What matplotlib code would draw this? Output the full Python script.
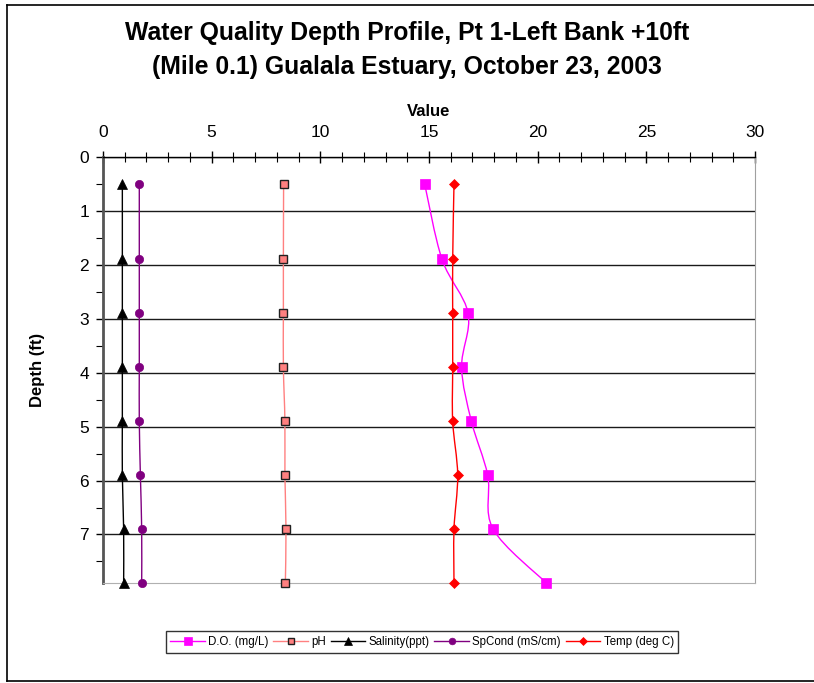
import numpy as np
import matplotlib
matplotlib.use("Agg")
import matplotlib.pyplot as plt
from matplotlib.path import Path
from matplotlib.patches import PathPatch
from matplotlib.lines import Line2D

plt.rcParams['font.family'] = ['Liberation Sans', 'DejaVu Sans']

# Depth profile data (ft)
depth = [0.5, 1.9, 2.9, 3.9, 4.9, 5.9, 6.9, 7.9]
do_mgl = [14.8, 15.6, 16.8, 16.5, 16.95, 17.7, 17.95, 20.4]
ph = [8.31, 8.30, 8.30, 8.30, 8.37, 8.37, 8.42, 8.39]
salinity = [0.89, 0.89, 0.89, 0.89, 0.89, 0.89, 0.95, 0.95]
spcond = [1.67, 1.67, 1.67, 1.67, 1.67, 1.72, 1.78, 1.78]
temp = [16.15, 16.09, 16.09, 16.09, 16.09, 16.32, 16.15, 16.15]

series_labels = ["D.O. (mg/L)", "pH", "Salinity(ppt)", "SpCond (mS/cm)", "Temp (deg C)"]
x_ticks = [0, 5, 10, 15, 20, 25, 30]
y_ticks = [0, 1, 2, 3, 4, 5, 6, 7]

title = "Water Quality Depth Profile, Pt 1-Left Bank +10ft\n(Mile 0.1) Gualala Estuary, October 23, 2003"

styles = [
    dict(color="#ff00ff", marker="s", ms=6.5, mfc="#ff00ff", mec="#ff00ff", mew=0.5),
    dict(color="#ff8080", marker="s", ms=5.5, mfc="#ff8080", mec="#202020", mew=1.0),
    dict(color="#000000", marker="^", ms=7, mfc="#000000", mec="#000000", mew=0.5),
    dict(color="#800080", marker="o", ms=6, mfc="#800080", mec="#800080", mew=0.5),
    dict(color="#ff0000", marker="D", ms=5, mfc="#ff0000", mec="#ff0000", mew=0.5),
]


def smooth_path(xs, ys, tension=1.0 / 6.0):
    """Cubic Bezier path through the points (Catmull-Rom style smoothing)."""
    pts = np.column_stack([xs, ys]).astype(float)
    n = len(pts)
    verts = [pts[0]]
    codes = [Path.MOVETO]
    for i in range(n - 1):
        p0 = pts[i - 1] if i > 0 else pts[i]
        p1 = pts[i]
        p2 = pts[i + 1]
        p3 = pts[i + 2] if i + 2 < n else pts[i + 1]
        c1 = p1 + (p2 - p0) * tension
        c2 = p2 - (p3 - p1) * tension
        verts += [c1, c2, p2]
        codes += [Path.CURVE4] * 3
    return Path(verts, codes)


fig = plt.figure(figsize=(8.14, 6.83), dpi=100)
ax = fig.add_axes([103 / 814, 1 - 583 / 683, (755 - 103) / 814, (583 - 157) / 683])

all_series = [do_mgl, ph, salinity, spcond, temp]
for vals, st in zip(all_series, styles):
    patch = PathPatch(smooth_path(vals, depth), facecolor="none",
                      edgecolor=st["color"], lw=1.0, zorder=3)
    ax.add_patch(patch)
    ax.plot(vals, depth, linestyle="none", marker=st["marker"], ms=st["ms"],
            mfc=st["mfc"], mec=st["mec"], mew=st["mew"], zorder=4, clip_on=False)

ax.set_xlim(0, 30)
ax.set_ylim(max(depth), 0)
ax.xaxis.tick_top()
ax.xaxis.set_label_position("top")
ax.set_xticks(x_ticks)
ax.set_xticks(np.arange(0, 31, 1), minor=True)
ax.set_yticks(y_ticks)
ax.set_yticks(np.arange(0.5, 8, 1.0), minor=True)
ax.tick_params(axis="x", which="major", direction="inout", length=8, width=1,
               labelsize=12.5, pad=8.5)
ax.tick_params(axis="x", which="minor", direction="inout", length=7, width=0.8)
ax.tick_params(axis="y", which="major", direction="out", length=5, width=1,
               labelsize=12.5, pad=5)
ax.tick_params(axis="y", which="minor", direction="out", length=5, width=0.8)

ax.grid(axis="y", which="major", color="#1a1a1a", lw=1.0)
ax.set_axisbelow(True)

ax.spines["top"].set_color("#000000")
ax.spines["top"].set_linewidth(1.0)
ax.spines["left"].set_color("#555555")
ax.spines["left"].set_linewidth(2.0)
ax.spines["right"].set_color("#a0a0a0")
ax.spines["bottom"].set_color("#b0b0b0")

ax.set_xlabel("Value", fontsize=12, fontweight="bold", labelpad=6)
ax.set_ylabel("Depth (ft)", fontsize=12, fontweight="bold", labelpad=25)

fig.text(407 / 814, 1 - 50 / 683, title, ha="center", va="center",
         fontsize=17.8, fontweight="bold", linespacing=1.5)

handles = [Line2D([], [], color=st["color"], lw=1.0, marker=st["marker"],
                  ms=st["ms"] * 0.8, mfc=st["mfc"], mec=st["mec"], mew=st["mew"])
           for st in styles]
leg = fig.legend(handles, series_labels, loc="center",
                 bbox_to_anchor=(422 / 814, 1 - 642 / 683), ncol=5, fontsize=8.3,
                 frameon=True, fancybox=False, edgecolor="#000000",
                 handlelength=3.0, handletextpad=0.3, columnspacing=0.4,
                 borderpad=0.4)
leg.get_frame().set_linewidth(1.0)

# chart border
fig.add_artist(Line2D([7 / 814, 7 / 814], [1 - 5 / 683, 1 - 681 / 683],
                      transform=fig.transFigure, color="#000000", lw=1.2))
fig.add_artist(Line2D([7 / 814, 1], [1 - 5 / 683, 1 - 5 / 683],
                      transform=fig.transFigure, color="#000000", lw=1.2))
fig.add_artist(Line2D([7 / 814, 1], [1 - 681 / 683, 1 - 681 / 683],
                      transform=fig.transFigure, color="#000000", lw=1.2))

fig.savefig("out.png", dpi=100)
